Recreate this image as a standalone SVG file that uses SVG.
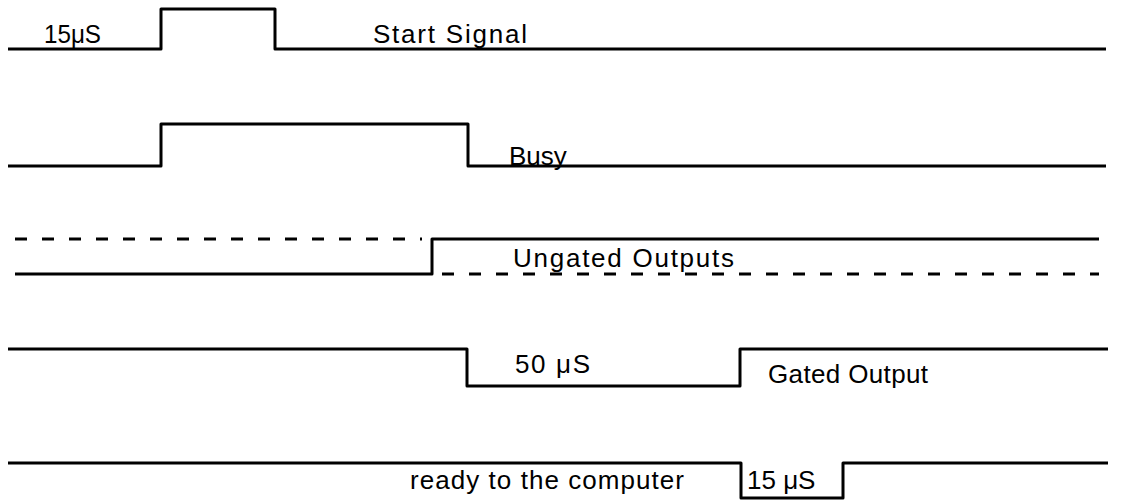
<svg xmlns="http://www.w3.org/2000/svg" width="1142" height="501" viewBox="0 0 1142 501">
<style>
.sig{fill:none;stroke:#000;stroke-width:3;stroke-linejoin:round;stroke-linecap:butt}
.dash{fill:none;stroke:#000;stroke-width:3;stroke-dasharray:12 15}
.t{font-family:"Liberation Sans",Arial,sans-serif;font-size:26px;fill:#000}
</style>
<rect width="1142" height="501" fill="#fff"/>
<g id="start-signal">
<path class="sig" d="M8,49 H161 V9 H275 V49 H1106"/>
<text class="t" x="44" y="43" textLength="57" lengthAdjust="spacingAndGlyphs">15μS</text>
<text class="t" x="373" y="43" textLength="154" lengthAdjust="spacing">Start Signal</text>
</g>
<g id="busy">
<path class="sig" d="M8,166 H161 V124 H468 V166 H1106"/>
<text class="t" x="509" y="165">Busy</text>
</g>
<g id="ungated-outputs">
<path class="dash" d="M15,239 H422"/>
<path class="sig" d="M15,274 H432 V239 H1099"/>
<path class="dash" d="M442,274 H1099"/>
<text class="t" x="513" y="267" textLength="221" lengthAdjust="spacing">Ungated Outputs</text>
</g>
<g id="gated-output">
<path class="sig" d="M8,349 H467 V386 H740 V349 H1108"/>
<text class="t" x="515" y="373" textLength="75" lengthAdjust="spacing">50 μS</text>
<text class="t" x="768" y="383" textLength="160" lengthAdjust="spacing">Gated Output</text>
</g>
<g id="ready">
<path class="sig" d="M8,463 H741 V498 H843 V463 H1108"/>
<text class="t" x="410" y="489" textLength="274" lengthAdjust="spacing">ready to the computer</text>
<text class="t" x="747" y="489">15 μS</text>
</g>
</svg>
